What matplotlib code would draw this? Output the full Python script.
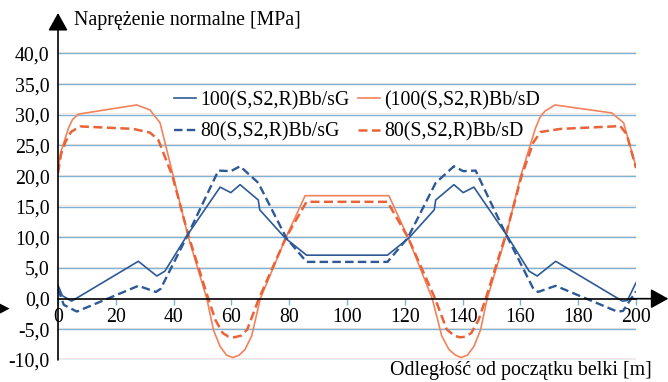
import matplotlib
matplotlib.use("Agg")
import matplotlib.pyplot as plt
import matplotlib.ticker as ticker

plt.rcParams['font.family'] = ['Liberation Serif', 'DejaVu Serif']

# --- data ---
# 100(S,S2,R)Bb/sG  (blue, solid)
g100_x = [0, 1.5, 4.7, 27.8, 34.2, 37.0, 44.5, 56.1, 59.8, 63.0, 69.3, 69.8, 78.6, 86.0,
          114.0, 121.4, 130.2, 130.7, 137.0, 140.2, 143.9, 155.5, 163.0, 165.8, 172.2,
          195.3, 197.0, 200]
g100_y = [2.2, 0.5, -0.4, 6.1, 3.7, 4.5, 10.2, 18.2, 17.3, 18.6, 16.1, 14.5, 9.9, 7.1,
          7.1, 9.9, 14.5, 16.1, 18.6, 17.3, 18.2, 10.2, 4.5, 3.7, 6.1,
          -0.4, -0.3, 2.6]

# 80(S,S2,R)Bb/sG  (blue, dashed)
g80_x = [0, 2.0, 6.5, 27.8, 33.9, 35.5, 45.0, 55.5, 59.8, 63.0, 69.3, 79.0, 86.0,
         114.0, 121.0, 130.7, 137.0, 140.2, 144.5, 155.0, 164.5, 166.1, 172.2,
         193.5, 195.5, 200]
g80_y = [1.6, -1.0, -2.1, 2.1, 1.1, 1.6, 10.5, 20.9, 20.8, 21.6, 18.9, 9.9, 6.0,
         6.0, 9.9, 18.9, 21.6, 20.8, 20.9, 10.5, 1.6, 1.1, 2.1,
         -2.1, -2.0, 1.2]

# (100(S,S2,R)Bb/sD  (orange, solid)
d100_x = [0, 1.0, 2.4, 3.6, 5.0, 7.0, 27.2, 31.8, 35.3, 39.9, 45.0, 51.5, 53.8, 56.1, 58.3,
          60.5, 62.7, 64.7, 67.0, 70.0, 78.9, 85.5, 114.5, 121.1, 129.5, 132.8, 135.3,
          137.5, 139.5, 141.7, 143.9, 146.2, 148.5, 155.0, 160.1, 165.2, 166.8, 168.5,
          172.0, 191.6, 195.7, 200]
d100_y = [21.0, 24.0, 26.0, 27.8, 29.2, 30.1, 31.6, 30.8, 28.7, 20.0, 10.2, 0.0, -5.1, -7.8,
          -9.2, -9.6, -9.2, -8.3, -6.1, 0.0, 10.0, 16.8, 16.8, 10.0, 0.0, -6.1, -8.3,
          -9.2, -9.6, -9.2, -7.8, -5.1, 0.0, 10.2, 20.0, 27.8, 29.6, 30.6,
          31.6, 30.3, 28.7, 21.5]

# 80(S,S2,R)Bb/sD  (orange, dashed)
d80_x = [0, 1.0, 2.5, 4.5, 7.6, 26.0, 31.8, 34.7, 39.6, 45.0, 52.0, 54.5, 57.0, 59.0, 61.0,
         63.5, 65.5, 69.5, 78.9, 86.0, 114.0, 121.1, 130.5, 134.5, 137.0, 139.0, 141.0,
         143.0, 145.5, 148.0, 155.0, 160.4, 164.5, 167.0, 174.0, 192.4, 194.5, 196.8, 200]
d80_y = [20.5, 23.5, 25.5, 27.2, 28.1, 27.7, 27.1, 25.9, 20.0, 10.5, 0.0, -3.5, -5.6, -6.2,
         -6.3, -6.0, -5.0, 0.0, 10.0, 15.8, 15.8, 10.0, 0.0, -5.0, -6.0, -6.3, -6.2,
         -5.6, -3.5, 0.0, 10.5, 20.0, 25.5, 27.2, 27.7, 28.1, 28.2, 26.8, 21.3]

labels = ["100(S,S2,R)Bb/sG", "80(S,S2,R)Bb/sG", "(100(S,S2,R)Bb/sD", "80(S,S2,R)Bb/sD"]
x_ticks = [0, 20, 40, 60, 80, 100, 120, 140, 160, 180, 200]
y_ticks = [-10, -5, 0, 5, 10, 15, 20, 25, 30, 35, 40]

blue = '#2d5a96'
orange_l = '#f2825c'
orange_d = '#ea6237'
fs = 14.3

fig = plt.figure(figsize=(6.68, 3.82), dpi=100)
ax = fig.add_axes([58 / 668, 22 / 382, 578 / 668, 347 / 382])
ax.set_xlim(0, 200)
ax.set_ylim(-10, 46.6)

# gridlines (blue with faint orange shadow)
for v in y_ticks:
    if v == 0:
        continue
    ax.axhline(v, color='#7fb3d6', lw=1.0, zorder=1)
    ax.axhline(v + 0.25, color='#f8c8b4', lw=0.8, alpha=0.45, zorder=0.9)

l1, = ax.plot(g100_x, g100_y, color=blue, lw=1.2, zorder=3)
l2, = ax.plot(g80_x, g80_y, color=blue, lw=1.7, dashes=(3.6, 1.8), zorder=3)
l3, = ax.plot(d100_x, d100_y, color=orange_l, lw=1.2, zorder=2)
l4, = ax.plot(d80_x, d80_y, color=orange_d, lw=1.8, dashes=(3.6, 1.8), zorder=2)

ax.legend([l1, l2, l3, l4], labels, ncol=2, frameon=False, fontsize=fs,
          handlelength=1.1, handletextpad=0.2, columnspacing=0.45, labelspacing=0.62,
          loc='upper left', bbox_to_anchor=(174 / 668, 1 - 91 / 382),
          bbox_transform=fig.transFigure, borderaxespad=0, borderpad=0)

# axes
for s in ['top', 'right', 'left']:
    ax.spines[s].set_visible(False)
ax.spines['bottom'].set_position(('data', 0))
ax.spines['bottom'].set_color('black')
ax.spines['bottom'].set_linewidth(1.2)
ax.spines['bottom'].set_zorder(4)

ax.annotate('', xy=(0, 1), xytext=(0, 0), xycoords='axes fraction',
            arrowprops=dict(arrowstyle='-|>,head_length=0.9,head_width=0.5',
                            color='black', lw=1.2, mutation_scale=12,
                            shrinkA=0, shrinkB=0))
ax.annotate('', xy=(1.056, 0), xytext=(0.99, 0), xycoords=('axes fraction', 'data'),
            arrowprops=dict(arrowstyle='-|>,head_length=0.9,head_width=0.5',
                            color='black', lw=1.2, mutation_scale=12,
                            shrinkA=0, shrinkB=0), annotation_clip=False)

ax.set_xticks(x_ticks)
ax.set_yticks(y_ticks)
ax.yaxis.set_major_formatter(ticker.FuncFormatter(lambda v, p: f"{v:.1f}".replace('.', ',')))
ax.tick_params(axis='x', direction='out', length=4, color='#7fb3d6', width=1.0,
               pad=3, labelsize=fs)
ax.tick_params(axis='y', length=0, pad=6, labelsize=fs)

fig.text(74 / 668, 1 - 21 / 382, "Naprężenie normalne [MPa]", ha='left', va='center', fontsize=fs)
fig.text(652 / 668, 1 - 371 / 382, "Odległość od początku belki [m]", ha='right', va='center',
         fontsize=fs)
fig.text(5 / 668, 1 - 308 / 382, "▶", ha='center', va='center', fontsize=9,
         family='DejaVu Sans')

fig.savefig("out.png", dpi=100)
